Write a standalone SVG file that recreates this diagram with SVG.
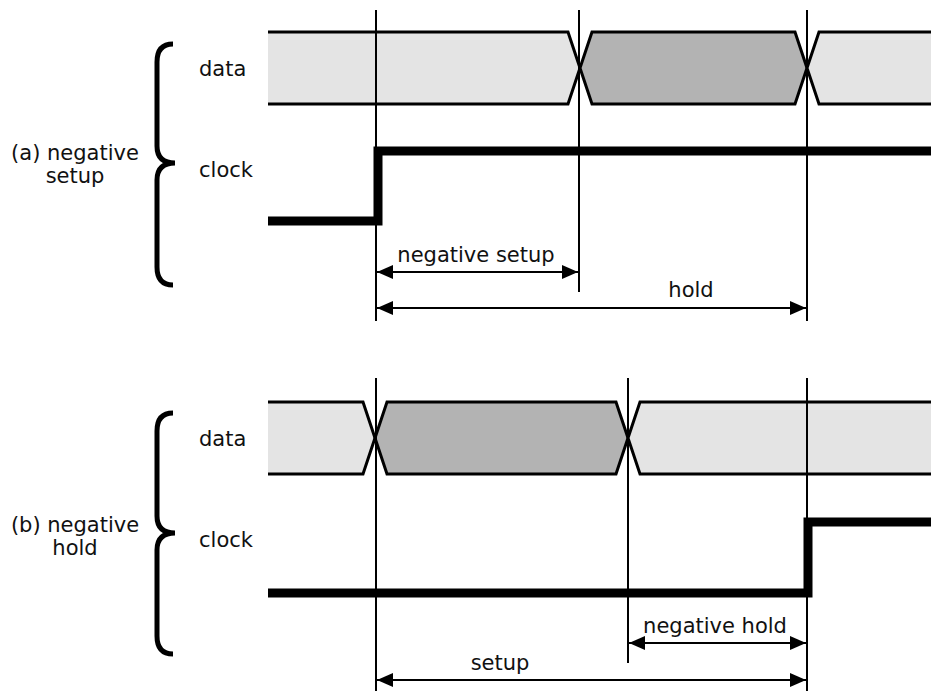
<svg xmlns="http://www.w3.org/2000/svg" width="931" height="691" viewBox="0 0 931 691">
<style>
  text { font-family: "DejaVu Sans", "Liberation Sans", sans-serif; font-size: 21px; fill: #111; }
  .light { fill: #e4e4e4; stroke: none; }
  .dark { fill: #b3b3b3; stroke: none; }
  .edge { fill: none; stroke: #000; stroke-width: 3; stroke-linejoin: miter; }
  .vline { stroke: #000; stroke-width: 2; fill: none; }
  .clk { fill: none; stroke: #000; stroke-width: 9; stroke-linejoin: miter; stroke-linecap: butt; }
  .brace { fill: none; stroke: #000; stroke-width: 5; stroke-linejoin: miter; }
  .dim { stroke: #000; stroke-width: 2; fill: none; marker-start: url(#ah); marker-end: url(#ah); }
</style>
<defs>
  <marker id="ah" markerUnits="userSpaceOnUse" markerWidth="16" markerHeight="14" refX="16" refY="7" orient="auto-start-reverse">
    <path d="M0,0 L16,7 L0,14 Z" fill="#000"/>
  </marker>
</defs>

<!-- Panel (a) -->
<g id="panel-a-label">
  <text x="75" y="160" text-anchor="middle">(a) negative</text>
  <text x="75" y="183" text-anchor="middle">setup</text>
</g>
<g id="brace-a">
  <path class="brace" d="M173,44 Q157,44 157,62 L157,146 Q157,163 175,163 Q157,163 157,180 L157,267 Q157,285 173,285"/>
</g>
<g id="label-a-data"><text x="199" y="76">data</text></g>
<g id="label-a-clock"><text x="199" y="177">clock</text></g>

<g id="data-a">
  <path class="light" d="M268,32 L568,32 L580,68 L568,104 L268,104 Z"/>
  <path class="edge" d="M268,32 L568,32 L580,68 L568,104 L268,104"/>
  <path class="dark" d="M592,32 L795,32 L807,68 L795,104 L592,104 L580,68 Z"/>
  <path class="edge" d="M592,32 L795,32 L807,68 L795,104 L592,104 L580,68 Z"/>
  <path class="light" d="M931,32 L819,32 L807,68 L819,104 L931,104 Z"/>
  <path class="edge" d="M931,32 L819,32 L807,68 L819,104 L931,104"/>
</g>
<g id="clock-a">
  <path class="clk" d="M268,221 L378,221 L378,151 L931,151"/>
</g>

<!-- Panel (b) -->
<g id="panel-b-label">
  <text x="75" y="532" text-anchor="middle">(b) negative</text>
  <text x="75" y="555" text-anchor="middle">hold</text>
</g>
<g id="brace-b">
  <path class="brace" d="M173,413 Q157,413 157,431 L157,516 Q157,533 175,533 Q157,533 157,550 L157,636 Q157,654 173,654"/>
</g>
<g id="label-b-data"><text x="199" y="446">data</text></g>
<g id="label-b-clock"><text x="199" y="547">clock</text></g>

<g id="data-b">
  <path class="light" d="M268,402 L363,402 L375,438 L363,474 L268,474 Z"/>
  <path class="edge" d="M268,402 L363,402 L375,438 L363,474 L268,474"/>
  <path class="dark" d="M387,402 L616,402 L628,438 L616,474 L387,474 L375,438 Z"/>
  <path class="edge" d="M387,402 L616,402 L628,438 L616,474 L387,474 L375,438 Z"/>
  <path class="light" d="M931,402 L640,402 L628,438 L640,474 L931,474 Z"/>
  <path class="edge" d="M931,402 L640,402 L628,438 L640,474 L931,474"/>
</g>
<g id="clock-b">
  <path class="clk" d="M268,593 L808,593 L808,522 L931,522"/>
</g>

<!-- connectors: reference lines and dimension arrows -->
<g id="connectors">
  <line class="vline" x1="376" y1="10" x2="376" y2="321"/>
  <line class="vline" x1="579" y1="10" x2="579" y2="292"/>
  <line class="vline" x1="807" y1="10" x2="807" y2="321"/>
  <line class="dim" x1="377" y1="272" x2="578" y2="272"/>
  <line class="dim" x1="377" y1="308" x2="806" y2="308"/>

  <line class="vline" x1="376" y1="378" x2="376" y2="691"/>
  <line class="vline" x1="628" y1="378" x2="628" y2="663"/>
  <line class="vline" x1="807" y1="378" x2="807" y2="691"/>
  <line class="dim" x1="629" y1="643" x2="806" y2="643"/>
  <line class="dim" x1="377" y1="680" x2="806" y2="680"/>
</g>
<g id="dim-labels">
  <text x="476" y="262" text-anchor="middle">negative setup</text>
  <text x="691" y="297" text-anchor="middle">hold</text>
  <text x="715" y="633" text-anchor="middle">negative hold</text>
  <text x="500" y="670" text-anchor="middle">setup</text>
</g>
</svg>
